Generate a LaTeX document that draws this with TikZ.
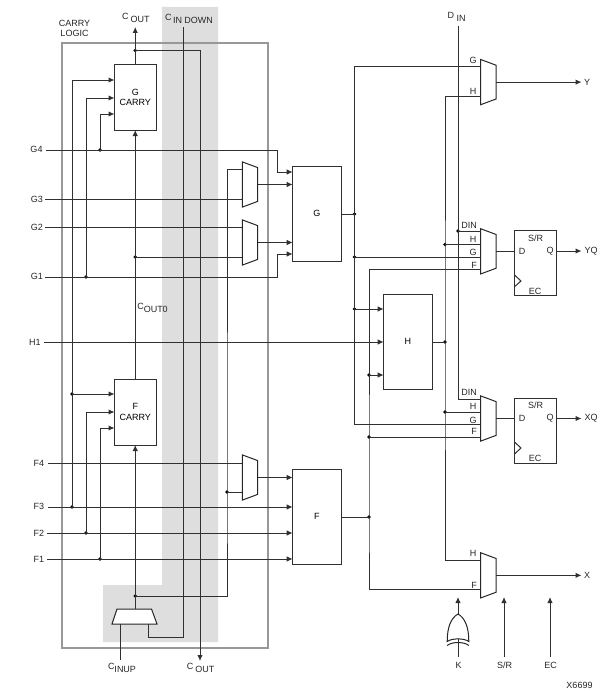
\documentclass[tikz,border=0pt]{standalone}
\usepackage{fontspec}
\setmainfont{Liberation Sans}
\usetikzlibrary{arrows.meta,calc}
\definecolor{bandgray}{HTML}{DEDEDE}
\definecolor{framegray}{HTML}{989898}
\definecolor{wire}{HTML}{303030}
\tikzset{
  sig/.style={draw=wire,line width=1pt},
  arr/.style={sig,-{Latex[length=6pt,width=5.5pt]}},
  dot/.style={circle,fill=black,inner sep=0pt,minimum size=3.8pt,outer sep=0pt},
  boxn/.style={draw=wire,line width=1pt,fill=white,inner sep=0pt,outer sep=0pt,align=center,minimum width=#1},
  boxn/.default=48.3pt,
  txt/.style={inner sep=0pt,outer sep=0pt,align=center,text=black!85},
  muxnode/.style={inner sep=0pt,outer sep=0pt,minimum width=15.3pt,minimum height=45.2pt},
  muxline/.style={draw=black!85,line width=1pt,fill=white,line join=miter}
}
\newcommand{\sublab}[3]{\raisebox{3pt}{#1}\hspace{#3}#2}
\newcommand{\muxat}[3]{%
  \node[muxnode] (#1) at (#2,#3) {};
  \draw[muxline] (#1.north west) -- ($(#1.north east)+(0,5.7)$) -- ($(#1.south east)+(0,-5.7)$) -- (#1.south west) -- cycle;
}
\begin{document}
\begin{tikzpicture}[x=1pt,y=-1pt,font=\fontsize{9}{10.5}\selectfont]
\useasboundingbox (0,0) rectangle (612,693);
\fill[white] (0,0) rectangle (612,693);
% shaded carry band and frame
\fill[bandgray] (162,7) -- (218,7) -- (218,642) -- (103,642) -- (103,585) -- (162,585) -- cycle;
\draw[framegray,line width=2.8pt] (62,43) rectangle (268,648);

% ---- blocks
\node[boxn=41.5pt,minimum height=65pt] (gc) at (135.25,97.5) {G\\CARRY};
\node[boxn=41.5pt,minimum height=66pt] (fc) at (135.25,412) {F\\CARRY};
\node[boxn,minimum height=95pt] (gb) at (316.85,213.5) {G};
\node[boxn,minimum height=95pt] (fb) at (316.85,516.5) {F};
\node[boxn,minimum height=95pt] (hb) at (407.85,341.5) {H};
\node[boxn=42pt,minimum height=65.3pt] (ffy) at (535.5,263.3) {};
\node[boxn=42pt,minimum height=65.7pt] (ffx) at (535.5,431) {};

% ---- multiplexers
\muxat{mA}{250}{184.5}
\muxat{mB}{250}{242.5}
\muxat{mC}{250}{477.5}
\muxat{mY}{488.35}{82.1}
\muxat{mYQ}{488.35}{251.35}
\muxat{mXQ}{488.35}{418.5}
\muxat{mX}{488.35}{575.35}
\node[inner sep=0pt,outer sep=0pt,minimum width=45pt,minimum height=15pt] (mC0) at (134.5,616.5) {};
\draw[muxline] (mC0.south west) -- ($(mC0.north west)+(5,0)$) -- ($(mC0.north east)+(-5.5,0)$) -- (mC0.south east) -- cycle;

% ---- coordinates
\foreach \n/\y in {gcA/80,gcB/98,gcC/114}{\coordinate (\n) at (114.5,\y);}
\foreach \n/\y in {fcA/394,fcB/412,fcC/428}{\coordinate (\n) at (114.5,\y);}
\foreach \n/\y in {gbA/172,gbB/184.5,gbC/242.5,gbD/254}{\coordinate (\n) at (292.7,\y);}
\foreach \n/\y in {fbA/477.5,fbB/507,fbC/533,fbD/559}{\coordinate (\n) at (292.7,\y);}
\foreach \n/\y in {hbA/309,hbB/342,hbC/375}{\coordinate (\n) at (383.7,\y);}
\coordinate (iG4) at (46,150);
\coordinate (iG3) at (45,199);
\coordinate (iG2) at (45,227);
\coordinate (iG1) at (45,277);
\coordinate (iH1) at (44,342);
\coordinate (iF4) at (48,463);
\coordinate (iF3) at (48,507);
\coordinate (iF2) at (47,533);
\coordinate (iF1) at (47,559);
\coordinate (bG4) at (277,150);
\coordinate (bG1) at (277,277);
\coordinate (mAa) at (242.35,169);
\coordinate (mAb) at (242.35,199);
\coordinate (mBa) at (242.35,227);
\coordinate (mBb) at (242.35,257);
\coordinate (mCa) at (242.35,463);
\coordinate (mCb) at (242.35,492);
\coordinate (pYg) at (480.7,67);
\coordinate (pYh) at (480.7,96.7);
\coordinate (pYQd) at (480.7,231);
\coordinate (pYQh) at (480.7,244.5);
\coordinate (pYQg) at (480.7,257);
\coordinate (pYQf) at (480.7,269);
\coordinate (pXQd) at (480.7,399);
\coordinate (pXQh) at (480.7,412);
\coordinate (pXQg) at (480.7,424.3);
\coordinate (pXQf) at (480.7,437);
\coordinate (pXh) at (480.7,560);
\coordinate (pXf) at (480.7,589);
\coordinate (topC) at (135.25,27);
\coordinate (botC) at (200,661);
\coordinate (topCD) at (183,27);
\coordinate (bCDa) at (183,637);
\coordinate (bCDb) at (148,637);
\coordinate (mCi) at (148,624);
\coordinate (mCu) at (120.7,624);
\coordinate (iCU) at (120.7,660);
\coordinate (topD) at (458,26);
\coordinate (oY) at (581.5,82.1);
\coordinate (oYQ) at (581.5,251);
\coordinate (oXQ) at (581.5,418.5);
\coordinate (oX) at (581.5,575.35);
\coordinate (ckK) at (458,657);
\coordinate (ckKt) at (458,597);
\coordinate (srB) at (504,657);
\coordinate (srT) at (504,597);
\coordinate (ecB) at (550,657);
\coordinate (ecT) at (550,597);

% ---- junctions
\node[dot] (jTop) at (135.25,50.5) {};
\node[dot] (jG4) at (100,150) {};
\node[dot] (jG1) at (86,277) {};
\node[dot] (jF3a) at (72,394) {};
\node[dot] (jF3) at (72,507) {};
\node[dot] (jF2) at (86,533) {};
\node[dot] (jF1) at (100,559) {};
\node[dot] (jCo) at (135.25,257) {};
\node[dot] (jCm) at (135.25,596) {};
\node[dot] (jCr) at (227,492) {};
\node[dot] (jGo) at (354.5,214) {};
\node[dot] (jGy) at (354.5,257) {};
\node[dot] (jGh) at (354.5,309) {};
\node[dot] (jFo) at (369,517) {};
\node[dot] (jFh) at (369,375) {};
\node[dot] (jFx) at (369,437) {};
\node[dot] (jHo) at (445,342) {};
\node[dot] (jHy) at (445,244.5) {};
\node[dot] (jHx) at (445,412) {};
\node[dot] (jD) at (458,231) {};

% ---- carry connectors
\draw[arr] (gc.north) -- (topC);
\draw[arr] (jTop.center) -| (botC);
\draw[sig] (topCD) -- (bCDa) -- (bCDb) -- (mCi);
\draw[sig] (mCu) -- (iCU);
\draw[arr] (fc.north) -- (gc.south);
\draw[arr] (fc.south |- mC0.north) -- (fc.south);
\draw[arr] (jF3.center) |- (gcA);
\draw[arr] (jG1.center) |- (gcB);
\draw[arr] (jG4.center) |- (gcC);
\draw[arr] (jF3a.center) -- (fcA);
\draw[arr] (jF2.center) |- (fcB);
\draw[arr] (jF1.center) |- (fcC);
\draw[sig] (jCo.center) -- (mBb);
\draw[sig] (jCm.center) -| (jCr.center) |- (mAa);
\draw[sig] (jCr.center) |- (mCb);

% ---- inputs
\draw[arr] (iG4) -- (bG4) |- (gbA);
\draw[sig] (iG3) -- (mAb);
\draw[sig] (iG2) -- (mBa);
\draw[arr] (iG1) -- (bG1) |- (gbD);
\draw[arr] (iH1) -- (hbB);
\draw[sig] (iF4) -- (mCa);
\draw[arr] (iF3) -- (fbB);
\draw[arr] (iF2) -- (fbC);
\draw[arr] (iF1) -- (fbD);
\draw[arr] (mA.east |- gbB) -- (gbB);
\draw[arr] (mB.east |- gbC) -- (gbC);
\draw[arr] (mC.east |- fbA) -- (fbA);

% ---- block outputs to the output multiplexers
\draw[sig] (gb.east |- jGo) -- (jGo.center);
\draw[sig] (pYg) -| (jGo.center) |- (pXQg);
\draw[sig] (jGy.center) -- (pYQg);
\draw[arr] (jGh.center) -- (hbA);
\draw[sig] (fb.east |- jFo) -- (jFo.center);
\draw[sig] (pYQf) -| (jFo.center) |- (pXf);
\draw[arr] (jFh.center) -- (hbC);
\draw[sig] (jFx.center) -- (pXQf);
\draw[sig] (hb.east |- jHo) -- (jHo.center);
\draw[sig] (pYh) -| (jHo.center) |- (pXh);
\draw[sig] (jHy.center) -- (pYQh);
\draw[sig] (jHx.center) -- (pXQh);
\draw[sig] (topD) |- (pXQd);
\draw[sig] (jD.center) -- (pYQd);

% ---- output stage
\draw[arr] (mY.east) -- (oY);
\draw[sig] (mYQ.east) -- (ffy.west |- mYQ.east);
\draw[arr] (ffy.east |- oYQ) -- (oYQ);
\draw[sig] (mXQ.east) -- (ffx.west |- mXQ.east);
\draw[arr] (ffx.east |- oXQ) -- (oXQ);
\draw[arr] (mX.east) -- (oX);
\draw[sig,line join=miter] (514.5,275) -- (521,281) -- (514.5,286.7);
\draw[sig,line join=miter] (514.5,442) -- (521,448) -- (514.5,454);

% ---- bottom controls
\draw[arr] (ckK) -- (ckKt);
\draw[arr] (srB) -- (srT);
\draw[arr] (ecB) -- (ecT);
\draw[draw=black!85,line width=1pt,fill=white] (458,614) .. controls (451,618) and (447.2,627) .. (447.2,641.5)
   .. controls (452,638) and (464,638) .. (468.8,641.5)
   .. controls (468.8,627) and (465,618) .. (458,614) -- cycle;
\draw[draw=black!85,line width=1pt] (447.2,645.5) .. controls (452,641.5) and (464,641.5) .. (468.8,645.5);

% ---- labels
\node[txt] (tCarry) at (74.5,28.4) {CARRY\\LOGIC};
\node[txt,anchor=base] (tCout) at (135.8,23) {\sublab{C}{OUT}{2pt}};
\node[txt,anchor=base] (tCin) at (189,23.6) {\sublab{C}{IN DOWN}{1.5pt}};
\node[txt,anchor=base] (tDin) at (456.7,22) {\sublab{D}{IN}{2.5pt}};
\node[txt,anchor=base] (tCout0) at (152.5,312.7) {\sublab{C}{OUT0}{0pt}};
\node[txt,anchor=base] (tCinup) at (122,672.7) {\sublab{C}{INUP}{0pt}};
\node[txt,anchor=base] (tCoutb) at (200.5,672.7) {\sublab{C}{OUT}{2pt}};
\foreach \n/\t/\x/\y in {lG4/G4/36.5/149.5,lG3/G3/37/199,lG2/G2/37/227,lG1/G1/37/276,lH1/H1/35/342,lF4/F4/39/463,lF3/F3/39/506,lF2/F2/39/533,lF1/F1/39/559}
  {\node[txt] (\n) at (\x,\y) {\t};}
\foreach \n/\t/\x/\y in {aYg/G/473/60,aYh/H/473/91,
  aYQd/DIN/469/225,aYQh/H/473/239,aYQg/G/473/252,aYQf/F/474/265,
  aXQd/DIN/469/392,aXQh/H/473/406,aXQg/G/473/420,aXQf/F/474/431.5,
  aXh/H/473/553,aXf/F/474/585,
  sY/S\slash R/535.5/238,dY/D/522/251,qY/Q/550/251,eY/EC/535/291,
  sX/S\slash R/535.5/405,dX/D/522/418,qX/Q/550/418,eX/EC/535/458,
  oLY/Y/587/82.5,oLYQ/YQ/591/251,oLXQ/XQ/591/418.5,oLX/X/587/575,
  lK/K/458.5/665,lSR/S\slash R/504.5/665,lEC/EC/550.5/665,lV/X6699/579.5/685}
  {\node[txt] (\n) at (\x,\y) {\t};}
\end{tikzpicture}
\end{document}
